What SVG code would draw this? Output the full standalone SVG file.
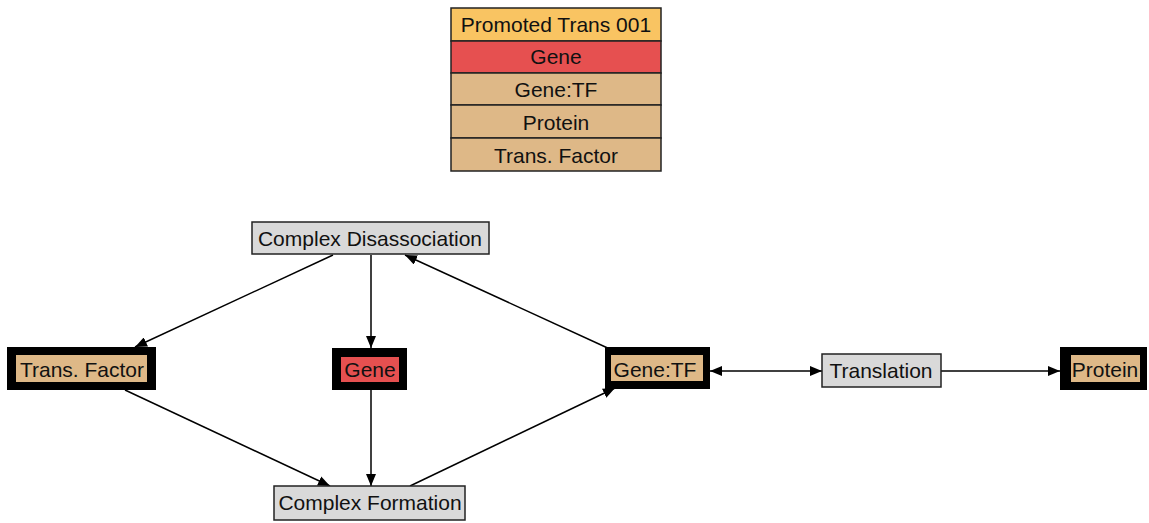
<svg xmlns="http://www.w3.org/2000/svg" width="1149" height="523" viewBox="0 0 1149 523">
  <style>
    text { font-family: "Liberation Sans", Arial, sans-serif; font-size: 21px; fill: #111; text-anchor: middle; }
    .leg { stroke: #222; stroke-width: 1.5; }
    .proc { fill: #d9d9d9; stroke: #222; stroke-width: 1.5; }
    .spc-out { fill: #000; }
    .tan { fill: #deb887; }
    .red { fill: #e65050; }
    .edge { stroke: #000; stroke-width: 1.5; fill: none; }
  </style>
  <defs>
    <marker id="arr" viewBox="0 0 12 10" refX="12" refY="5" markerWidth="12" markerHeight="10" markerUnits="userSpaceOnUse" orient="auto-start-reverse">
      <path d="M0,0 L12,5 L0,10 z" fill="#000"/>
    </marker>
  </defs>

  <!-- legend -->
  <g id="legend">
    <rect class="leg" x="451" y="8" width="210" height="33" fill="#f9c462"/>
    <text x="556" y="32">Promoted Trans 001</text>
    <rect class="leg" x="451" y="41" width="210" height="32" fill="#e65050"/>
    <text x="556" y="64">Gene</text>
    <rect class="leg" x="451" y="73" width="210" height="32" fill="#deb887"/>
    <text x="556" y="97">Gene:TF</text>
    <rect class="leg" x="451" y="105" width="210" height="33" fill="#deb887"/>
    <text x="556" y="130">Protein</text>
    <rect class="leg" x="451" y="138" width="210" height="33" fill="#deb887"/>
    <text x="556" y="163">Trans. Factor</text>
  </g>

  <!-- connectors -->
  <g id="connectors">
    <line class="edge" x1="333" y1="255" x2="135" y2="347" marker-end="url(#arr)"/>
    <line class="edge" x1="371" y1="255" x2="371" y2="348" marker-end="url(#arr)"/>
    <line class="edge" x1="612" y1="350" x2="405" y2="255" marker-end="url(#arr)"/>
    <line class="edge" x1="125" y1="390" x2="330" y2="486" marker-end="url(#arr)"/>
    <line class="edge" x1="371" y1="390" x2="371" y2="486" marker-end="url(#arr)"/>
    <line class="edge" x1="410" y1="486" x2="615" y2="388" marker-end="url(#arr)"/>
    <line class="edge" x1="710" y1="371" x2="822" y2="371" marker-start="url(#arr)" marker-end="url(#arr)"/>
    <line class="edge" x1="941" y1="371" x2="1060" y2="371" marker-end="url(#arr)"/>
  </g>

  <!-- process nodes -->
  <g id="complex-disassociation">
    <rect class="proc" x="252" y="222" width="237" height="32"/>
    <text x="370" y="246">Complex Disassociation</text>
  </g>
  <g id="complex-formation">
    <rect class="proc" x="274" y="486" width="191" height="34"/>
    <text x="370" y="510">Complex Formation</text>
  </g>
  <g id="translation">
    <rect class="proc" x="822" y="354" width="119" height="33"/>
    <text x="881" y="378">Translation</text>
  </g>

  <!-- species nodes -->
  <g id="trans-factor">
    <rect class="spc-out" x="7" y="347" width="149" height="43"/>
    <rect class="tan" x="16" y="355" width="131" height="27"/>
    <text x="82" y="377">Trans. Factor</text>
  </g>
  <g id="gene">
    <rect class="spc-out" x="332" y="348" width="75" height="42"/>
    <rect class="red" x="341" y="357" width="58" height="25"/>
    <text x="370" y="377">Gene</text>
  </g>
  <g id="gene-tf">
    <rect class="spc-out" x="605" y="347" width="105" height="42"/>
    <rect class="tan" x="611" y="355" width="92" height="26"/>
    <text x="655" y="377">Gene:TF</text>
  </g>
  <g id="protein">
    <rect class="spc-out" x="1060" y="347" width="87" height="43"/>
    <rect class="tan" x="1071" y="355" width="69" height="27"/>
    <text x="1105" y="377">Protein</text>
  </g>
</svg>
